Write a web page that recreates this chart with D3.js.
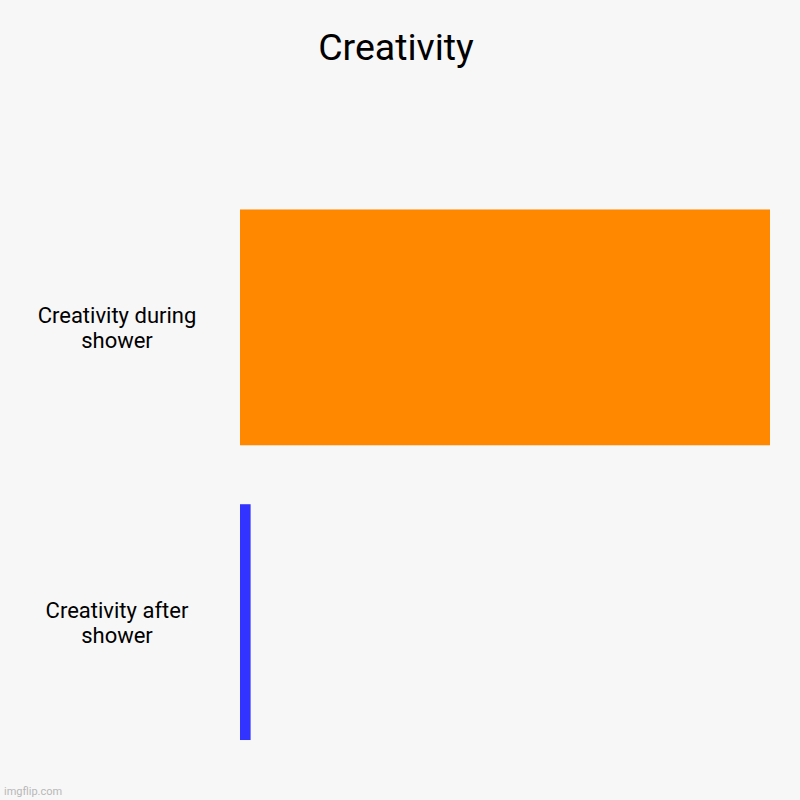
<!DOCTYPE html>
<html>
<head>
<meta charset="utf-8">
<script src="https://cdn.jsdelivr.net/npm/d3@7"></script>
<style>
  html, body { margin: 0; padding: 0; background: #f7f7f7; }
  svg { display: block; font-family: Roboto, sans-serif; }
</style>
</head>
<body>
<svg id="chart" width="800" height="800"></svg>
<script>
// bar chart data
var categories = ["Creativity during shower", "Creativity after shower"];
var labelLines = [["Creativity during", "shower"], ["Creativity after", "shower"]];
var values = [100, 2];
var colors = ["#ff8800", "#3333ff"];

var svg = d3.select("#chart");

svg.append("rect")
  .attr("width", 800).attr("height", 800)
  .attr("fill", "#f7f7f7");

var x = d3.scaleLinear().domain([0, 100]).range([240, 770]);
var y = d3.scaleBand()
  .domain(categories)
  .range([180, 769.5])
  .paddingInner(0.2)
  .paddingOuter(0.1);

svg.append("text")
  .attr("x", 396).attr("y", 60)
  .attr("text-anchor", "middle")
  .attr("font-size", 37.5)
  .attr("fill", "#000")
  .text("Creativity");

svg.selectAll("rect.bar")
  .data(categories)
  .enter().append("rect")
    .attr("class", "bar")
    .attr("x", x(0))
    .attr("y", function(d) { return y(d); })
    .attr("width", function(d, i) { return x(values[i]) - x(0); })
    .attr("height", y.bandwidth())
    .attr("fill", function(d, i) { return colors[i]; });

var labels = svg.selectAll("text.label")
  .data(categories)
  .enter().append("text")
    .attr("class", "label")
    .attr("text-anchor", "middle")
    .attr("font-size", 22)
    .attr("fill", "#000");

labels.each(function(d, i) {
  var lines = labelLines[i];
  var mid = y(d) + y.bandwidth() / 2;
  var t = d3.select(this);
  lines.forEach(function(line, j) {
    t.append("tspan")
      .attr("x", 117)
      .attr("y", mid + (j - (lines.length - 1) / 2) * 25 + 8)
      .text(line);
  });
});

svg.append("text")
  .attr("x", 4).attr("y", 795)
  .attr("font-size", 11)
  .attr("fill", "#b8b8b8")
  .text("imgflip.com");
</script>
</body>
</html>
